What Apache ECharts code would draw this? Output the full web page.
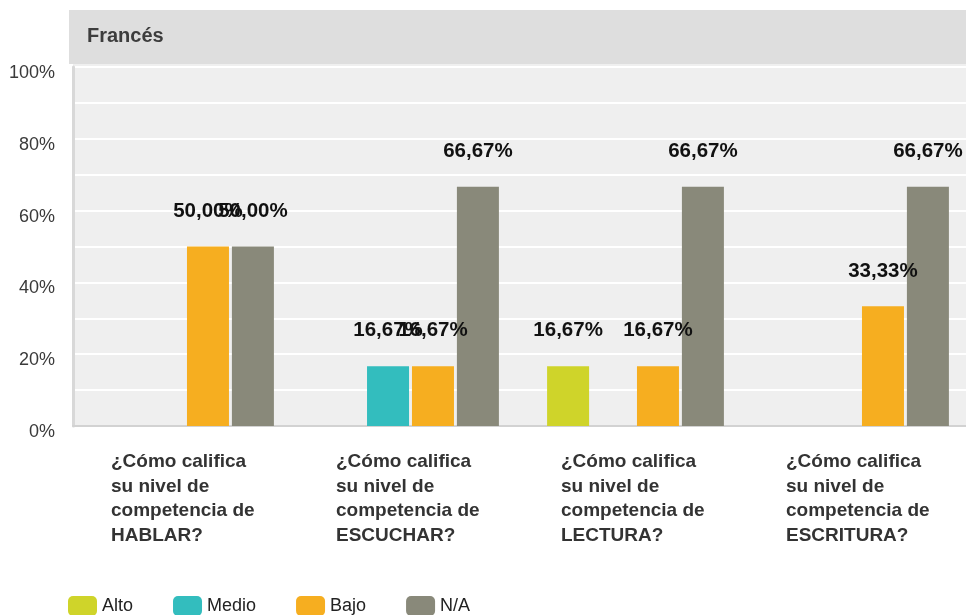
<!DOCTYPE html>
<html>
<head>
<meta charset="utf-8">
<script src="https://cdn.jsdelivr.net/npm/echarts@6/dist/echarts.min.js"></script>
<style>
  html, body { margin: 0; padding: 0; background: #fff; }
  #chart { width: 966px; height: 615px; }
</style>
</head>
<body>
<div id="chart"></div>
<script>
// datos
const categories = [
  '¿Cómo califica su nivel de competencia de HABLAR?',
  '¿Cómo califica su nivel de competencia de ESCUCHAR?',
  '¿Cómo califica su nivel de competencia de LECTURA?',
  '¿Cómo califica su nivel de competencia de ESCRITURA?'
]
const seriesNames = ['Alto', 'Medio', 'Bajo', 'N/A']
const alto = [0, 0, 16.67, 0]
const medio = [0, 16.67, 0, 0]
const bajo = [50, 16.67, 16.67, 33.33]
const na = [50, 66.67, 66.67, 66.67]
const colors = ['#cfd42a', '#33bdbe', '#f6ae20', '#89897a']

const chart = echarts.init(document.getElementById('chart'))

// corta el texto en líneas de 15 caracteres como máximo
const wrap = (text) => {
  const words = text.split(' ')
  const lines = []
  let cur = ''
  words.forEach(w => {
    if (cur && (cur + ' ' + w).length > 15) {
      lines.push(cur)
      cur = w
    } else {
      cur = cur ? cur + ' ' + w : w
    }
  })
  if (cur) lines.push(cur)
  return lines.map(l => '{a|' + l + '}').join('\n')
}

const makeSeries = (name, data, color) => ({
  name: name,
  type: 'bar',
  data: data,
  barWidth: 42,
  barGap: '7%',
  itemStyle: { color: color },
  label: {
    show: true,
    position: 'top',
    distance: 25,
    fontSize: 20.5,
    fontWeight: 'bold',
    color: '#111',
    formatter: p => p.value ? p.value.toFixed(2).replace('.', ',') + '%' : ''
  }
})

const option = {
  animation: false,
  textStyle: { fontFamily: 'Liberation Sans, Arial, sans-serif' },
  graphic: [
    { type: 'rect', z: -10, shape: { x: 69, y: 10, width: 897, height: 54 }, style: { fill: '#dedede' } },
    { type: 'rect', z: -10, shape: { x: 73, y: 64, width: 893, height: 362 }, style: { fill: '#efefef' } }
  ],
  title: {
    text: 'Francés',
    left: 82,
    top: 21,
    textStyle: { fontSize: 20, fontWeight: 'bold', color: '#3d3d3d' }
  },
  legend: {
    data: seriesNames,
    left: 68,
    top: 596,
    padding: 0,
    icon: 'roundRect',
    itemWidth: 29,
    itemHeight: 20,
    itemGap: 40,
    textStyle: { fontSize: 18, color: '#222' }
  },
  grid: {
    left: 73,
    width: 900,
    top: 67,
    bottom: 189,
    outerBoundsMode: 'none',
    containLabel: false
  },
  xAxis: {
    type: 'category',
    data: categories,
    axisTick: { show: false },
    axisLine: { lineStyle: { color: '#d2d2d2', width: 2 } },
    axisLabel: {
      interval: 0,
      margin: 24,
      formatter: wrap,
      rich: {
        a: { width: 149, align: 'left', fontSize: 19, fontWeight: 'bold', color: '#333', lineHeight: 24.5 }
      }
    }
  },
  yAxis: {
    type: 'value',
    min: 0,
    max: 100,
    interval: 20,
    axisLine: { show: true, lineStyle: { color: '#d8d8d8', width: 3 } },
    axisTick: { show: false },
    axisLabel: {
      formatter: '{value}%',
      fontSize: 18,
      color: '#3a3a3a',
      margin: 18,
      verticalAlign: 'top',
      lineHeight: 12
    },
    splitLine: { lineStyle: { color: '#ffffff', width: 2 } },
    minorTick: { show: false, splitNumber: 2 },
    minorSplitLine: { show: true, lineStyle: { color: '#ffffff', width: 2 } }
  },
  series: [
    makeSeries('Alto', alto, colors[0]),
    makeSeries('Medio', medio, colors[1]),
    makeSeries('Bajo', bajo, colors[2]),
    makeSeries('N/A', na, colors[3])
  ]
}

chart.setOption(option)
</script>
</body>
</html>
